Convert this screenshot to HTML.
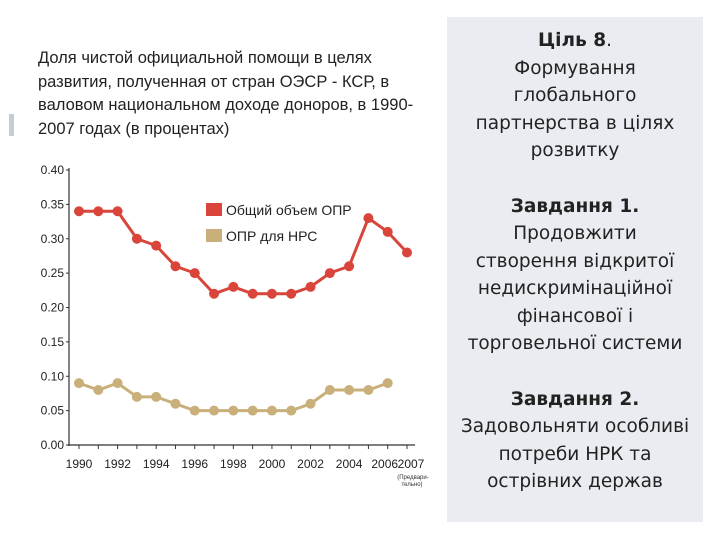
<!DOCTYPE html>
<html><head><meta charset="utf-8">
<style>
body{margin:0;width:720px;height:540px;background:#fff;position:relative;overflow:hidden;font-family:"Liberation Sans","DejaVu Sans",sans-serif}
#title{position:absolute;left:38px;top:47px;font-size:16.5px;line-height:23.5px;color:#222;width:400px}
#panel{position:absolute;left:447px;top:17px;width:256px;height:505px;background:#e9edf1;text-align:center;font-family:"DejaVu Sans",sans-serif;font-size:18.5px;line-height:27.5px;color:#222}
#panel p{margin:0}
#leftbar{position:absolute;left:9px;top:114px;width:5px;height:22px;background:#c5ccd6}
</style></head><body>
<div id="leftbar"></div>
<div id="title">Доля чистой официальной помощи в целях развития, полученная от стран ОЭСР - КСР, в валовом национальном доходе доноров, в 1990-2007 годах (в процентах)</div>
<svg id="chart" width="440" height="540" style="position:absolute;left:0;top:0" font-family="Liberation Sans, sans-serif"></svg>
<div id="panel">
<p style="margin-top:10px"><b>Ціль 8</b>.<br>Формування<br>глобального<br>партнерства в цілях<br>розвитку</p>
<p style="margin-top:28px"><b>Завдання 1.</b><br>Продовжити<br>створення відкритої<br>недискримінаційної<br>фінансової і<br>торговельної системи</p>
<p style="margin-top:28px"><b>Завдання 2.</b><br>Задовольняти особливі<br>потреби НРК та<br>острівних держав</p>
</div>
<script>
const years=[1990,1991,1992,1993,1994,1995,1996,1997,1998,1999,2000,2001,2002,2003,2004,2005,2006,2007];
const totalODA=[0.34,0.34,0.34,0.30,0.29,0.26,0.25,0.22,0.23,0.22,0.22,0.22,0.23,0.25,0.26,0.33,0.31,0.28];
const ldcODA=[0.09,0.08,0.09,0.07,0.07,0.06,0.05,0.05,0.05,0.05,0.05,0.05,0.06,0.08,0.08,0.08,0.09,null];
const yTicks=[0,0.05,0.10,0.15,0.20,0.25,0.30,0.35,0.40];
const xLabels=[1990,1992,1994,1996,1998,2000,2002,2004,2006,2007];
const svg=document.getElementById('chart');const NS='http://www.w3.org/2000/svg';
const X=y=>79+(y-1990)*(328/17);const Y=v=>445-v*(275/0.4);
function mk(t,a,txt){const e=document.createElementNS(NS,t);for(const k in a)e.setAttribute(k,a[k]);if(txt!=null)e.textContent=txt;svg.appendChild(e);return e;}
let e=mk('line',{x1:69,y1:168,x2:69,y2:446,stroke:'#333','stroke-width':1.2});

e=mk('line',{x1:68,y1:445,x2:415,y2:445,stroke:'#333','stroke-width':1.2});

yTicks.forEach(v=>{
 e=mk('line',{x1:66,y1:Y(v),x2:69,y2:Y(v),stroke:'#333'});
 
 e=mk('text',{x:64,y:Y(v)+4,'font-size':12,'text-anchor':'end',fill:'#222'},v.toFixed(2));
 
});
years.forEach(y=>{e=mk('line',{x1:X(y),y1:445,x2:X(y),y2:449,stroke:'#333'});
 });
xLabels.forEach(y=>{
 e=mk('text',{x:X(y)+(y==2006?-3:y==2007?4:0),y:468,'font-size':12,'text-anchor':'middle',fill:'#222'},String(y));
 
});
e=mk('text',{x:413,y:479,'font-size':6,'text-anchor':'middle',fill:'#333'},'(Предвари-');

e=mk('text',{x:412,y:486,'font-size':6,'text-anchor':'middle',fill:'#333'},'тельно)');

function series(vals,color,name){
 const pts=[];vals.forEach((v,i)=>{if(v!=null)pts.push(X(years[i])+','+Y(v));});
 e=mk('polyline',{points:pts.join(' '),fill:'none',stroke:color,'stroke-width':3});
 
 vals.forEach((v,i)=>{if(v==null)return;
  e=mk('circle',{cx:X(years[i]),cy:Y(v),r:5,fill:color});
  });
}
series(totalODA,'#d9453a','total-oda');
series(ldcODA,'#c9b07a','ldc-oda');
e=mk('rect',{x:206,y:203,width:16,height:13,fill:'#d9453a'});

e=mk('text',{x:226,y:215,'font-size':14,fill:'#222'},'Общий объем ОПР');

e=mk('rect',{x:206,y:229,width:16,height:13,fill:'#c9b07a'});

e=mk('text',{x:226,y:241,'font-size':14,fill:'#222'},'ОПР для НРС');

</script>
</body></html>
